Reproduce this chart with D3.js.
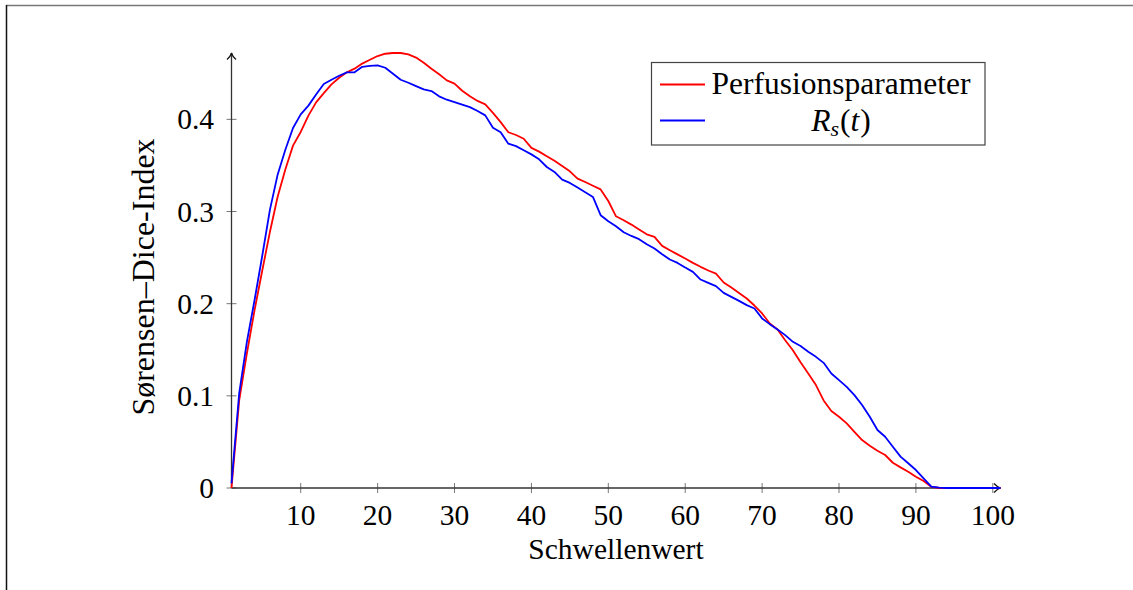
<!DOCTYPE html>
<html><head><meta charset="utf-8">
<script src="https://cdn.jsdelivr.net/npm/d3@7"></script>
<style>body{margin:0;background:#fff}svg{display:block}text{font-family:"Liberation Serif","Times New Roman",serif;fill:#000}</style>
</head><body>
<svg id="c" width="1133" height="590"></svg>
<script>
// Data
const thresholds = d3.range(1, 102); // 1..101
const perfusion = [0,0.095,0.146,0.193,0.236,0.278,0.316,0.3455,0.3715,0.3863,
0.404,0.4184,0.4285,0.438,0.4452,0.451,0.455,0.4605,0.4647,0.4687,
0.4712,0.472,0.472,0.4705,0.467,0.4615,0.455,0.449,0.4423,0.4387,
0.431,0.425,0.420,0.4163,0.407,0.397,0.386,0.383,0.379,0.369,
0.365,0.360,0.355,0.3495,0.3436,0.3357,0.332,0.328,0.324,0.3114,
0.2948,0.2905,0.2858,0.2805,0.2753,0.2724,0.2627,0.258,0.2535,0.249,
0.2443,0.240,0.236,0.2327,0.223,0.2175,0.2115,0.2056,0.198,0.1894,
0.1785,0.172,0.1604,0.1495,0.1365,0.1243,0.1117,0.095,0.0835,0.0773,
0.0701,0.061,0.052,0.0459,0.0404,0.0358,0.0274,0.0224,0.0177,0.0123,
0.0076,0.0014,0,0,0,0,0,0,0,0,0];
const rst = [0.005,0.1026,0.1586,0.204,0.252,0.302,0.340,0.367,0.3906,0.4054,
0.4149,0.427,0.4383,0.443,0.4473,0.451,0.451,0.457,0.458,0.4585,
0.456,0.4495,0.443,0.4397,0.436,0.4325,0.4307,0.425,0.4213,0.4188,
0.416,0.4133,0.409,0.4043,0.391,0.386,0.3736,0.371,0.3665,0.362,
0.3566,0.3483,0.3429,0.3346,0.331,0.326,0.321,0.3158,0.296,0.2894,
0.284,0.2775,0.2735,0.270,0.2645,0.2598,0.2537,0.2479,0.2442,0.2392,
0.2345,0.2262,0.2225,0.219,0.2117,0.2074,0.203,0.1984,0.1948,0.184,
0.1778,0.172,0.1659,0.1586,0.154,0.1478,0.1423,0.1358,0.1243,0.1171,
0.1098,0.1008,0.090,0.0773,0.0629,0.0556,0.0448,0.034,0.0268,0.0195,
0.0105,0.0014,0.0003,0,0,0,0,0,0,0,0];
const xTicks = [10,20,30,40,50,60,70,80,90,100];
const yTicks = [0,0.1,0.2,0.3,0.4];
const seriesNames = ["Perfusionsparameter","R_s(t)"];
const seriesColors = ["#ff0000","#0000ff"];

const svg = d3.select("#c");
const FS = 29.5;

// frame
svg.append("line").attr("x1",6).attr("x2",1133).attr("y1",5.5).attr("y2",5.5).attr("stroke","#777").attr("stroke-width",1.5);
svg.append("line").attr("x1",6.5).attr("x2",6.5).attr("y1",5).attr("y2",590).attr("stroke","#111").attr("stroke-width",1.5);

const x = d3.scaleLinear().domain([1,101]).range([231.5,1000.5]);
const yMax = d3.max(perfusion.concat(rst));
const y = d3.scaleLinear().domain([0,yMax]).range([488,53]);

// ticks
const tg = svg.append("g");
xTicks.forEach(t=>{
  tg.append("line").attr("x1",x(t)).attr("x2",x(t)).attr("y1",483).attr("y2",493).attr("stroke","#777").attr("stroke-width",1);
  tg.append("text").attr("x",x(t)).attr("y",525).attr("text-anchor","middle").attr("font-size",FS).text(t);
});
yTicks.forEach(t=>{
  tg.append("line").attr("x1",226.5).attr("x2",236.5).attr("y1",y(t)).attr("y2",y(t)).attr("stroke","#777").attr("stroke-width",1);
  tg.append("text").attr("x",214).attr("y",y(t)+10).attr("text-anchor","end").attr("font-size",FS).text(t===0?"0":t.toFixed(1));
});

// axis lines
svg.append("line").attr("x1",x(1)).attr("x2",x(101)).attr("y1",488).attr("y2",488).attr("stroke","#333").attr("stroke-width",1.3);
svg.append("line").attr("x1",x(1)).attr("x2",x(1)).attr("y1",488).attr("y2",y(yMax)).attr("stroke","#333").attr("stroke-width",1.3);
const xe = x(101), ye = y(yMax), x0 = x(1);
svg.append("path").attr("d",`M${xe-6.5},${488-4.5} Q${xe-3},${487.3} ${xe},488 Q${xe-3},${488.7} ${xe-6.5},${488+4.5}`).attr("fill","none").attr("stroke","#111").attr("stroke-width",1.2);
svg.append("path").attr("d",`M${x0-4.5},${ye+6.5} Q${x0-0.7},${ye+3} ${x0},${ye} Q${x0+0.7},${ye+3} ${x0+4.5},${ye+6.5}`).attr("fill","none").attr("stroke","#111").attr("stroke-width",1.2);

// lines
const line = d3.line().x((d,i)=>x(thresholds[i])).y(d=>y(d));
[perfusion, rst].forEach((s,k)=>{
  svg.append("path").datum(s).attr("d",line).attr("fill","none").attr("stroke",seriesColors[k]).attr("stroke-width",1.8).attr("stroke-linejoin","round");
});

// axis labels
svg.append("text").attr("x",616).attr("y",559).attr("text-anchor","middle").attr("font-size",FS).text("Schwellenwert");
svg.append("text").attr("transform","translate(154,277) rotate(-90)").attr("text-anchor","middle").attr("font-size",32).text("Sørensen–Dice-Index");

// legend
const lg = svg.append("g");
lg.append("rect").attr("x",651.5).attr("y",62.5).attr("width",333.5).attr("height",82.5).attr("fill","#fff").attr("stroke","#444").attr("stroke-width",1.2);
lg.append("line").attr("x1",660).attr("x2",705).attr("y1",84.5).attr("y2",84.5).attr("stroke",seriesColors[0]).attr("stroke-width",1.8);
lg.append("line").attr("x1",660).attr("x2",705).attr("y1",120.5).attr("y2",120.5).attr("stroke",seriesColors[1]).attr("stroke-width",1.8);
lg.append("text").attr("x",841).attr("y",93.5).attr("text-anchor","middle").attr("font-size",31.5).text(seriesNames[0]);
const t2 = lg.append("text").attr("x",841).attr("y",130.5).attr("text-anchor","middle").attr("font-size",31.5);
t2.append("tspan").attr("font-style","italic").text("R");
t2.append("tspan").attr("font-style","italic").attr("font-size",22).attr("dy",5).text("s");
t2.append("tspan").attr("dy",-5).attr("dx",1).text("(");
t2.append("tspan").attr("font-style","italic").text("t");
t2.append("tspan").attr("dx",1).text(")");
</script>
</body></html>
